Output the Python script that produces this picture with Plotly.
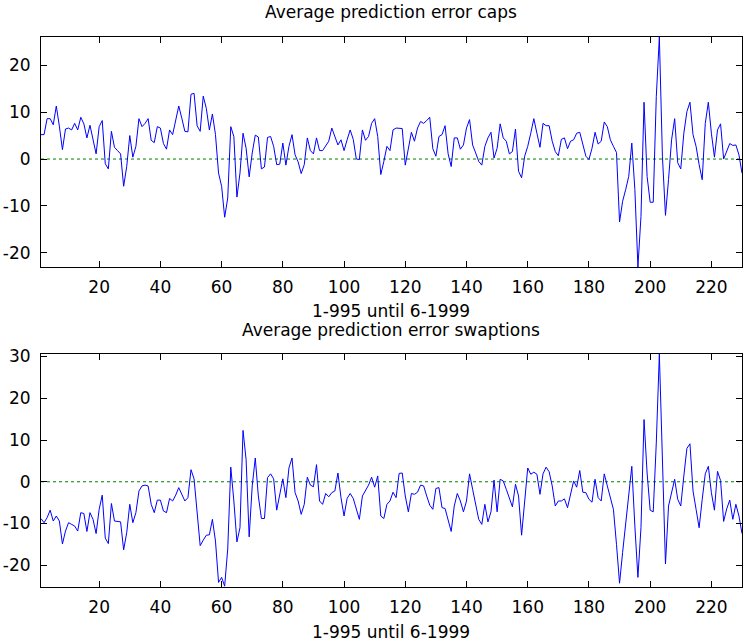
import plotly.graph_objects as go

months = list(range(1, 231))

caps_error = [
    5.2, 5.2, 8.6, 8.6, 7.3, 11.3, 7.0, 2.0, 6.4, 6.6,
    6.2, 7.6, 6.2, 8.9, 7.5, 4.5, 7.2, 4.1, 1.1, 6.9,
    8.2, -1.0, -2.1, 5.9, 2.5, 1.8, 1.1, -5.8, -1.6, 5.0,
    0.4, 2.7, 8.6, 6.9, 7.6, 8.6, 4.0, 3.5, 6.9, 6.6,
    3.3, 2.1, 6.2, 5.2, 8.4, 11.3, 8.7, 5.9, 5.8, 13.8,
    14.0, 7.1, 5.9, 13.4, 10.8, 6.2, 9.6, 5.2, -3.0, -5.8,
    -12.4, -8.3, 6.9, 4.8, -8.1, -3.0, 5.5, 2.3, -3.8, 1.3,
    5.1, 4.7, -2.1, -1.7, 4.6, 4.8, 2.7, -1.2, -1.1, 3.4,
    -1.3, 2.7, 5.2, 0.9, -0.6, -3.1, -1.2, 4.5, 1.8, 1.1,
    4.5, 1.8, 1.8, 2.7, 3.8, 6.6, 5.0, 3.0, 4.1, 1.8,
    4.1, 6.2, 4.2, 0.0, -0.1, 6.2, 4.0, 4.8, 7.6, 8.6,
    4.8, -3.3, -0.5, 2.7, 1.8, 6.2, 6.6, 6.5, 6.5, -1.3,
    2.3, 5.7, 3.8, 6.6, 8.0, 7.6, 8.2, 8.9, 2.2, 0.6,
    4.8, 5.2, 7.1, 1.1, -1.6, 4.5, 4.5, 2.1, 3.0, 6.6,
    8.4, 3.0, 1.3, -0.5, -1.3, 2.7, 4.5, 5.7, 0.2, 2.3,
    7.5, 4.5, 3.8, 1.1, 1.6, 6.4, -2.6, -4.0, 0.6, 2.7,
    5.5, 8.6, 5.5, 2.5, 7.6, 7.1, 7.1, 3.8, 1.6, 0.7,
    4.2, 4.5, 2.2, 3.8, 4.1, 5.5, 5.7, 2.9, 0.6, -0.1,
    2.3, 5.7, 3.2, 3.8, 7.9, 6.9, 4.1, 2.7, 1.4, -13.4,
    -9.0, -6.5, -3.7, 3.4, -6.5, -23.0, -12.2, 12.1, -3.7, -9.2,
    -9.2, 13.3, 26.0, 0.6, -12.0, -4.4, 4.1, 8.6, -0.8, -2.1,
    5.5, 10.1, 12.1, 5.2, 2.7, -1.2, -4.4, 7.6, 12.1, 5.5,
    0.4, 6.2, 7.5, 0.0, 1.6, 3.3, 2.9, 3.0, 0.9, -3.0,
]

swaptions_error = [
    -8.8, -9.8, -8.6, -6.8, -9.4, -8.2, -9.4, -14.9, -11.8, -9.8,
    -10.2, -10.6, -11.8, -7.4, -7.6, -11.9, -7.4, -9.0, -12.4, -6.6,
    -3.2, -13.5, -14.8, -5.2, -9.4, -9.5, -9.6, -16.3, -12.2, -5.4,
    -9.8, -7.4, -2.2, -1.0, -0.8, -1.0, -5.4, -7.4, -4.4, -4.4,
    -7.0, -7.4, -4.0, -4.6, -3.2, -1.4, -3.0, -4.6, -3.8, 2.9,
    0.7, -8.2, -15.3, -14.0, -12.8, -12.7, -9.0, -14.2, -24.1, -22.9,
    -25.0, -16.1, 3.5, -4.6, -14.4, -11.0, 12.3, 5.3, -13.2, -1.0,
    5.7, -3.4, -8.8, -8.8, 1.0, 1.9, 0.7, -6.8, -3.4, 0.7,
    -3.8, 3.3, 5.7, -2.6, -4.6, -7.8, -5.4, 1.1, -0.8, -1.2,
    4.1, -4.6, -5.4, -2.8, -3.6, -2.6, -2.2, 2.1, -3.8, -8.2,
    -4.0, -2.8, -4.0, -6.4, -9.0, -3.4, -2.0, -0.8, 1.1, -1.3,
    1.4, -8.2, -8.8, -5.4, -4.6, -2.5, -3.8, 2.0, 2.1, -3.4,
    -7.2, -2.8, -3.0, -2.5, -0.8, -1.0, -3.4, -5.6, -6.6, -1.6,
    -1.4, -6.2, -6.4, -9.5, -11.9, -5.8, -2.8, -4.6, -7.2, -4.6,
    1.9, -1.8, -5.8, -9.0, -10.2, -5.4, -9.6, -7.2, 0.4, -7.2,
    0.6, 0.2, -1.8, -4.2, -6.0, -0.6, -3.4, -12.8, -5.4, 3.3,
    1.8, 2.3, 1.8, -3.0, 1.9, 3.5, 2.4, -1.0, -5.8, -4.6,
    -4.6, -4.1, -6.2, -3.0, 0.2, -1.3, 2.7, -2.5, -2.6, -4.2,
    -4.9, 0.6, -3.8, -4.6, 1.9, -1.0, -4.2, -6.6, -15.0, -24.3,
    -16.9, -9.8, -2.6, 3.7, -10.6, -22.9, -11.0, 14.9, 2.1, -6.8,
    -7.2, 9.3, 30.6, 2.1, -19.7, -5.8, -2.8, 0.6, -4.2, -5.8,
    1.4, 8.0, 9.1, -2.2, -6.6, -11.0, -4.2, 1.9, 3.7, -2.6,
    -6.8, 2.5, 0.3, -9.5, -6.5, -4.4, -9.0, -5.4, -8.2, -12.4,
]

x_ticks = [20, 40, 60, 80, 100, 120, 140, 160, 180, 200, 220]
caps_y_ticks = [-20, -10, 0, 10, 20]
caps_y_labels = ["-20", "-10", "0", "10", "20"]
swaptions_y_ticks = [-20, -10, 0, 10, 20, 30]
swaptions_y_labels = ["-20", "-10", "0", "10", "20", "30"]

title_caps = "Average prediction error caps"
title_swaptions = "Average prediction error swaptions"
x_label = "1-995 until 6-1999"

W, H = 744, 644
FONT = "DejaVu Sans"
FS = 17

fig = go.Figure()

for k, series in enumerate([caps_error, swaptions_error]):
    xa = "x" if k == 0 else "x2"
    ya = "y" if k == 0 else "y2"
    fig.add_trace(go.Scatter(x=[months[0], months[-1]], y=[0, 0], mode="lines",
                             line=dict(color="#008000", width=1, dash="dot"),
                             xaxis=xa, yaxis=ya, hoverinfo="skip", showlegend=False))
    fig.add_trace(go.Scatter(x=months, y=series, mode="lines",
                             line=dict(color="#0000ff", width=1),
                             xaxis=xa, yaxis=ya, showlegend=False))

x_dom = [41 / W, 742 / W]
top_dom = [1 - 267 / H, 1 - 37 / H]
bot_dom = [1 - 587 / H, 1 - 354 / H]

axis_common = dict(showgrid=False, zeroline=False, showline=True, linecolor="black",
                   linewidth=1, mirror="allticks", ticks="inside", ticklen=6,
                   tickcolor="black", automargin=False,
                   tickfont=dict(family=FONT, size=FS, color="black"))

fig.update_layout(
    width=W, height=H,
    margin=dict(l=0, r=0, t=0, b=0, autoexpand=False),
    paper_bgcolor="white", plot_bgcolor="white",
    xaxis=dict(domain=x_dom, range=[1, 230], tickvals=x_ticks, anchor="y",
               ticklabelstandoff=5, **axis_common),
    yaxis=dict(domain=top_dom, range=[-23, 26], tickvals=caps_y_ticks,
               ticktext=caps_y_labels, anchor="x", ticklabelstandoff=6, **axis_common),
    xaxis2=dict(domain=x_dom, range=[1, 230], tickvals=x_ticks, anchor="y2",
                ticklabelstandoff=5, **axis_common),
    yaxis2=dict(domain=bot_dom, range=[-25.2, 30.6], tickvals=swaptions_y_ticks,
                ticktext=swaptions_y_labels, anchor="x2", ticklabelstandoff=6, **axis_common),
)

def label(text, xpx, ypx):
    fig.add_annotation(text=text, x=xpx / W, y=1 - ypx / H, xref="paper", yref="paper",
                       showarrow=False, xanchor="center", yanchor="middle",
                       font=dict(family=FONT, size=FS, color="black"))

label(title_caps, 391, 12)
label(x_label, 391, 311)
label(title_swaptions, 391, 330)
label(x_label, 391, 632)

fig.write_html("out.html", config={"displayModeBar": False},
               post_script="document.body.style.margin='0';document.body.style.overflow='hidden';")
